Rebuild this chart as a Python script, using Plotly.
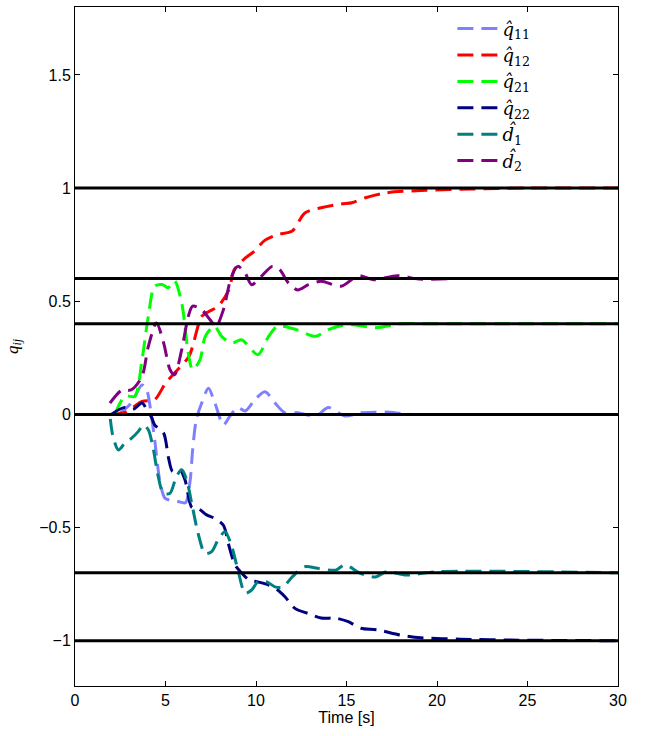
import plotly.graph_objects as go

# reference (true) values
ref_levels = [1.0, 0.6, 0.4, 0.0, -0.7, -1.0]
t_span = [0, 30]

t_q11 = [2.4, 3.1, 3.7, 3.96, 4.2, 4.4, 4.7, 4.97, 5.3, 5.7, 6.1, 6.35, 6.5, 6.7, 7.0, 7.37, 7.73, 8.2, 8.56, 9.0, 9.4, 9.95, 10.5, 11.05, 11.6, 12.3, 13.3, 14.0, 14.9, 15.8, 16.6, 17.4, 18.5, 20, 30]
v_q11 = [0, 0.05, 0.13, 0.108, 0.006, -0.11, -0.30, -0.37, -0.38, -0.385, -0.39, -0.30, -0.157, -0.024, 0.05, 0.116, 0.05, -0.046, -0.007, 0.03, 0.015, 0.066, 0.1, 0.05, 0.007, 0.007, -0.007, 0.03, -0.007, 0.007, 0.01, 0.01, 0.0, 0, 0]

t_q12 = [2.0, 2.8, 3.7, 4.4, 5.0, 5.5, 6.3, 7.0, 7.4, 7.9, 8.5, 8.8, 9.4, 9.9, 10.5, 11.2, 12.0, 12.7, 13.6, 14.7, 15.3, 16.0, 17.2, 19.4, 22, 25, 30]
v_q12 = [0, 0.01, 0.057, 0.065, 0.138, 0.183, 0.257, 0.433, 0.455, 0.477, 0.55, 0.64, 0.69, 0.72, 0.77, 0.795, 0.81, 0.89, 0.913, 0.93, 0.935, 0.956, 0.979, 0.99, 0.996, 1.0, 1.0]

t_q21 = [2.2, 2.76, 3.3, 3.7, 4.05, 4.4, 4.8, 5.15, 5.5, 5.9, 6.26, 6.5, 6.9, 7.2, 7.7, 8.1, 8.65, 9.2, 10.1, 10.7, 11.2, 12.2, 13.3, 14.0, 15.1, 16.6, 18, 20, 30]
v_q21 = [0, 0.08, 0.08, 0.24, 0.433, 0.566, 0.574, 0.56, 0.59, 0.49, 0.27, 0.197, 0.24, 0.345, 0.39, 0.345, 0.315, 0.33, 0.264, 0.345, 0.39, 0.375, 0.345, 0.375, 0.397, 0.383, 0.4, 0.4, 0.4]

t_q22 = [2.0, 2.7, 3.2, 3.7, 3.96, 4.24, 4.4, 4.9, 5.16, 5.4, 5.8, 6.08, 6.45, 6.8, 7.27, 7.73, 8.2, 8.47, 8.84, 9.2, 9.6, 10.1, 10.7, 11.2, 11.6, 12.15, 12.9, 13.6, 14.4, 15.1, 15.8, 16.7, 17.96, 19.1, 21.3, 24, 30]
v_q22 = [0.0, 0.03, 0.022, 0.05, 0.022, -0.015, -0.046, -0.083, -0.19, -0.253, -0.245, -0.29, -0.41, -0.415, -0.444, -0.46, -0.49, -0.57, -0.665, -0.7, -0.73, -0.74, -0.754, -0.776, -0.806, -0.857, -0.88, -0.9, -0.9, -0.916, -0.945, -0.952, -0.975, -0.987, -0.993, -0.997, -1.0]

t_d1 = [1.95, 2.1, 2.4, 2.76, 3.13, 3.5, 3.78, 4.05, 4.3, 4.6, 4.88, 5.25, 5.6, 5.9, 6.17, 6.45, 6.8, 7.18, 7.55, 7.9, 8.29, 8.66, 9.0, 9.4, 9.76, 10.1, 10.6, 11.05, 11.5, 12.0, 12.7, 13.4, 14.4, 14.9, 15.8, 16.6, 17.2, 18.3, 20, 30]
v_d1 = [-0.02, -0.098, -0.157, -0.127, -0.105, -0.075, -0.046, -0.068, -0.142, -0.275, -0.348, -0.348, -0.275, -0.245, -0.29, -0.393, -0.525, -0.614, -0.606, -0.555, -0.518, -0.584, -0.687, -0.79, -0.776, -0.74, -0.74, -0.762, -0.762, -0.718, -0.673, -0.68, -0.688, -0.665, -0.703, -0.718, -0.695, -0.71, -0.695, -0.7]

t_d2 = [1.93, 2.6, 3.1, 3.7, 4.05, 4.5, 4.9, 5.25, 5.5, 5.9, 6.26, 6.5, 7.0, 7.46, 7.8, 8.2, 8.65, 9.0, 9.4, 9.76, 10.3, 10.9, 11.3, 11.8, 12.3, 12.9, 13.6, 14.7, 15.65, 16.5, 17.8, 19, 21, 30]
v_d2 = [0.05, 0.108, 0.108, 0.167, 0.3, 0.404, 0.315, 0.197, 0.175, 0.287, 0.433, 0.478, 0.463, 0.418, 0.39, 0.463, 0.61, 0.654, 0.624, 0.573, 0.61, 0.654, 0.64, 0.58, 0.55, 0.573, 0.588, 0.566, 0.613, 0.595, 0.613, 0.598, 0.6, 0.6]

series_names = ["<i>q̂</i><sub>11</sub>", "<i>q̂</i><sub>12</sub>", "<i>q̂</i><sub>21</sub>",
                "<i>q̂</i><sub>22</sub>", "<i>d̂</i><sub>1</sub>", "<i>d̂</i><sub>2</sub>"]
series_colors = ["#8080ff", "#ff0000", "#00ff00", "#000080", "#008080", "#800080"]
series_t = [t_q11, t_q12, t_q21, t_q22, t_d1, t_d2]
series_v = [v_q11, v_q12, v_q21, v_q22, v_d1, v_d2]

fig = go.Figure()
for i, (name, col, tt, vv) in enumerate(zip(series_names, series_colors, series_t, series_v)):
    fig.add_trace(go.Scatter(x=tt, y=vv, mode="lines", name=name, legendgroup=f"g{i}",
                             line=dict(color=col, width=3, dash="16px,8px", shape="spline", smoothing=0.8)))

for lv in ref_levels:
    fig.add_trace(go.Scatter(x=t_span, y=[lv, lv], mode="lines", showlegend=False,
                             line=dict(color="black", width=3), hoverinfo="skip"))

axis_common = dict(showgrid=False, zeroline=False, showline=True, linecolor="black", linewidth=1,
                   mirror="ticks", ticks="inside", ticklen=5, tickcolor="black",
                   tickfont=dict(family="Liberation Sans, Arial", size=16, color="black"))

fig.update_layout(
    width=645, height=736,
    margin=dict(l=75, r=27, t=7, b=50),
    plot_bgcolor="white", paper_bgcolor="white",
    showlegend=True,
    legend=dict(x=0.695, y=0.995, xanchor="left", yanchor="top", bgcolor="rgba(0,0,0,0)",
                font=dict(family="DejaVu Serif, Liberation Serif", size=18, color="black"),
                itemwidth=40, tracegroupgap=0),
    xaxis=dict(range=[0, 30], tickvals=[0, 5, 10, 15, 20, 25, 30],
               title=dict(text="Time [s]", font=dict(family="Liberation Sans, Arial", size=16, color="black"), standoff=3),
               **axis_common),
    yaxis=dict(range=[-1.2, 1.8], tickvals=[-1, -0.5, 0, 0.5, 1, 1.5],
               title=dict(text="<i>q<sub>ij</sub></i>", font=dict(family="Liberation Serif, DejaVu Serif", size=17, color="black"), standoff=16),
               **axis_common),
)

fig.write_html("out.html")
